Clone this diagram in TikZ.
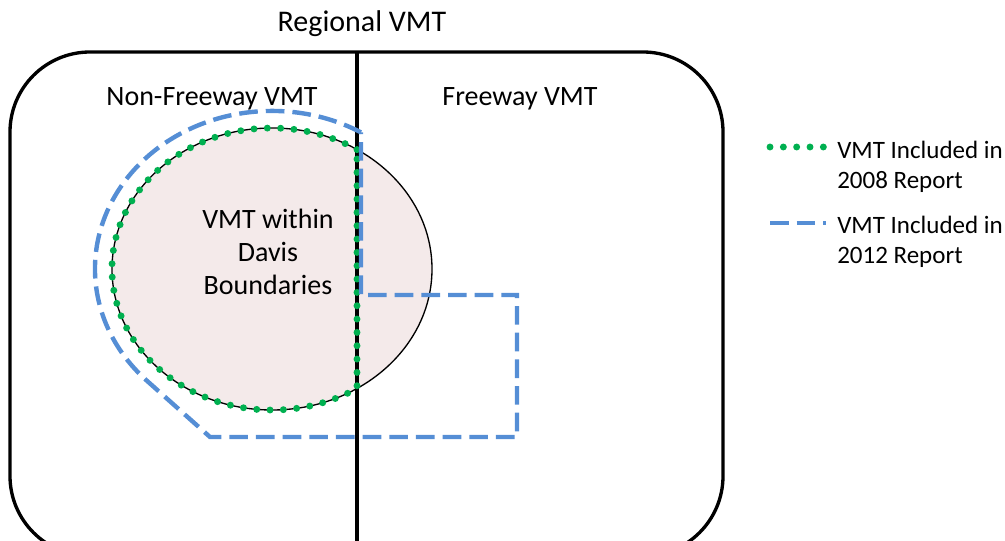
\documentclass[tikz,border=0pt]{standalone}
\usepackage{fontspec}
\setmainfont{Carlito}
\definecolor{vmtgreen}{RGB}{0,176,80}
\definecolor{vmtblue}{RGB}{85,142,213}
\definecolor{davispink}{RGB}{244,234,234}

\begin{document}
\begin{tikzpicture}[
  x=0.75pt, y=0.75pt,
  frame/.style={draw=black,line width=2.5pt},
  dots2008/.style={draw=vmtgreen,line width=5.2pt,line cap=round,dash pattern=on 0pt off 10pt},
  dashes2012/.style={draw=vmtblue,line width=3.3pt,dash pattern=on 14pt off 6pt},
  areatext/.style={font=\fontsize{21}{25}\selectfont,inner sep=0pt},
  keytext/.style={font=\fontsize{18.75}{22}\selectfont,inner sep=0pt,align=left,anchor=west}
]
  \useasboundingbox (0,0) rectangle (1005,540);
  \clip (0,0) rectangle (1005,540);

  % Regional box, split into non-freeway and freeway
  \draw[frame,rounded corners=60pt] (10,-16) rectangle (723,488);
  \node[areatext,font=\fontsize{22.5}{27}\selectfont,anchor=base] (regional) at (362,508) {Regional VMT};
  \node[areatext,anchor=base] (nonfwy) at (212,434) {Non-Freeway VMT};
  \node[areatext,anchor=base] (fwy) at (520,434) {Freeway VMT};

  % Davis area
  \draw[fill=davispink,line width=1pt] (272,271) ellipse[x radius=160,y radius=141];
  \draw[frame] (357,488) -- (357,-20);
  \node[areatext,align=center] (davis) at (268,288) {VMT within\\Davis\\Boundaries};

  % 2008 report: non-freeway part of Davis
  \draw[dots2008] (357,390.4) arc[start angle=57.9,end angle=302.1,x radius=160,y radius=141] -- cycle;

  % 2012 report: adds freeway trips
  \draw[dashes2012] (361,407.6) arc[start angle=59.8,end angle=225,x radius=177,y radius=158]
    -- (210,103) -- (517,103) -- (517,245) -- (361,245) -- cycle;

  % Legend
  \coordinate (k1a) at (770,393);
  \coordinate (k1b) at (825,393);
  \coordinate (k2a) at (770,317);
  \coordinate (k2b) at (826,317);
  \draw[dots2008] (k1a) -- (k1b);
  \draw[dashes2012] (k2a) -- (k2b);
  \node[keytext] (key2008) at (837,373) {VMT Included in\\2008 Report};
  \node[keytext] (key2012) at (837,298) {VMT Included in\\2012 Report};
\end{tikzpicture}
\end{document}
